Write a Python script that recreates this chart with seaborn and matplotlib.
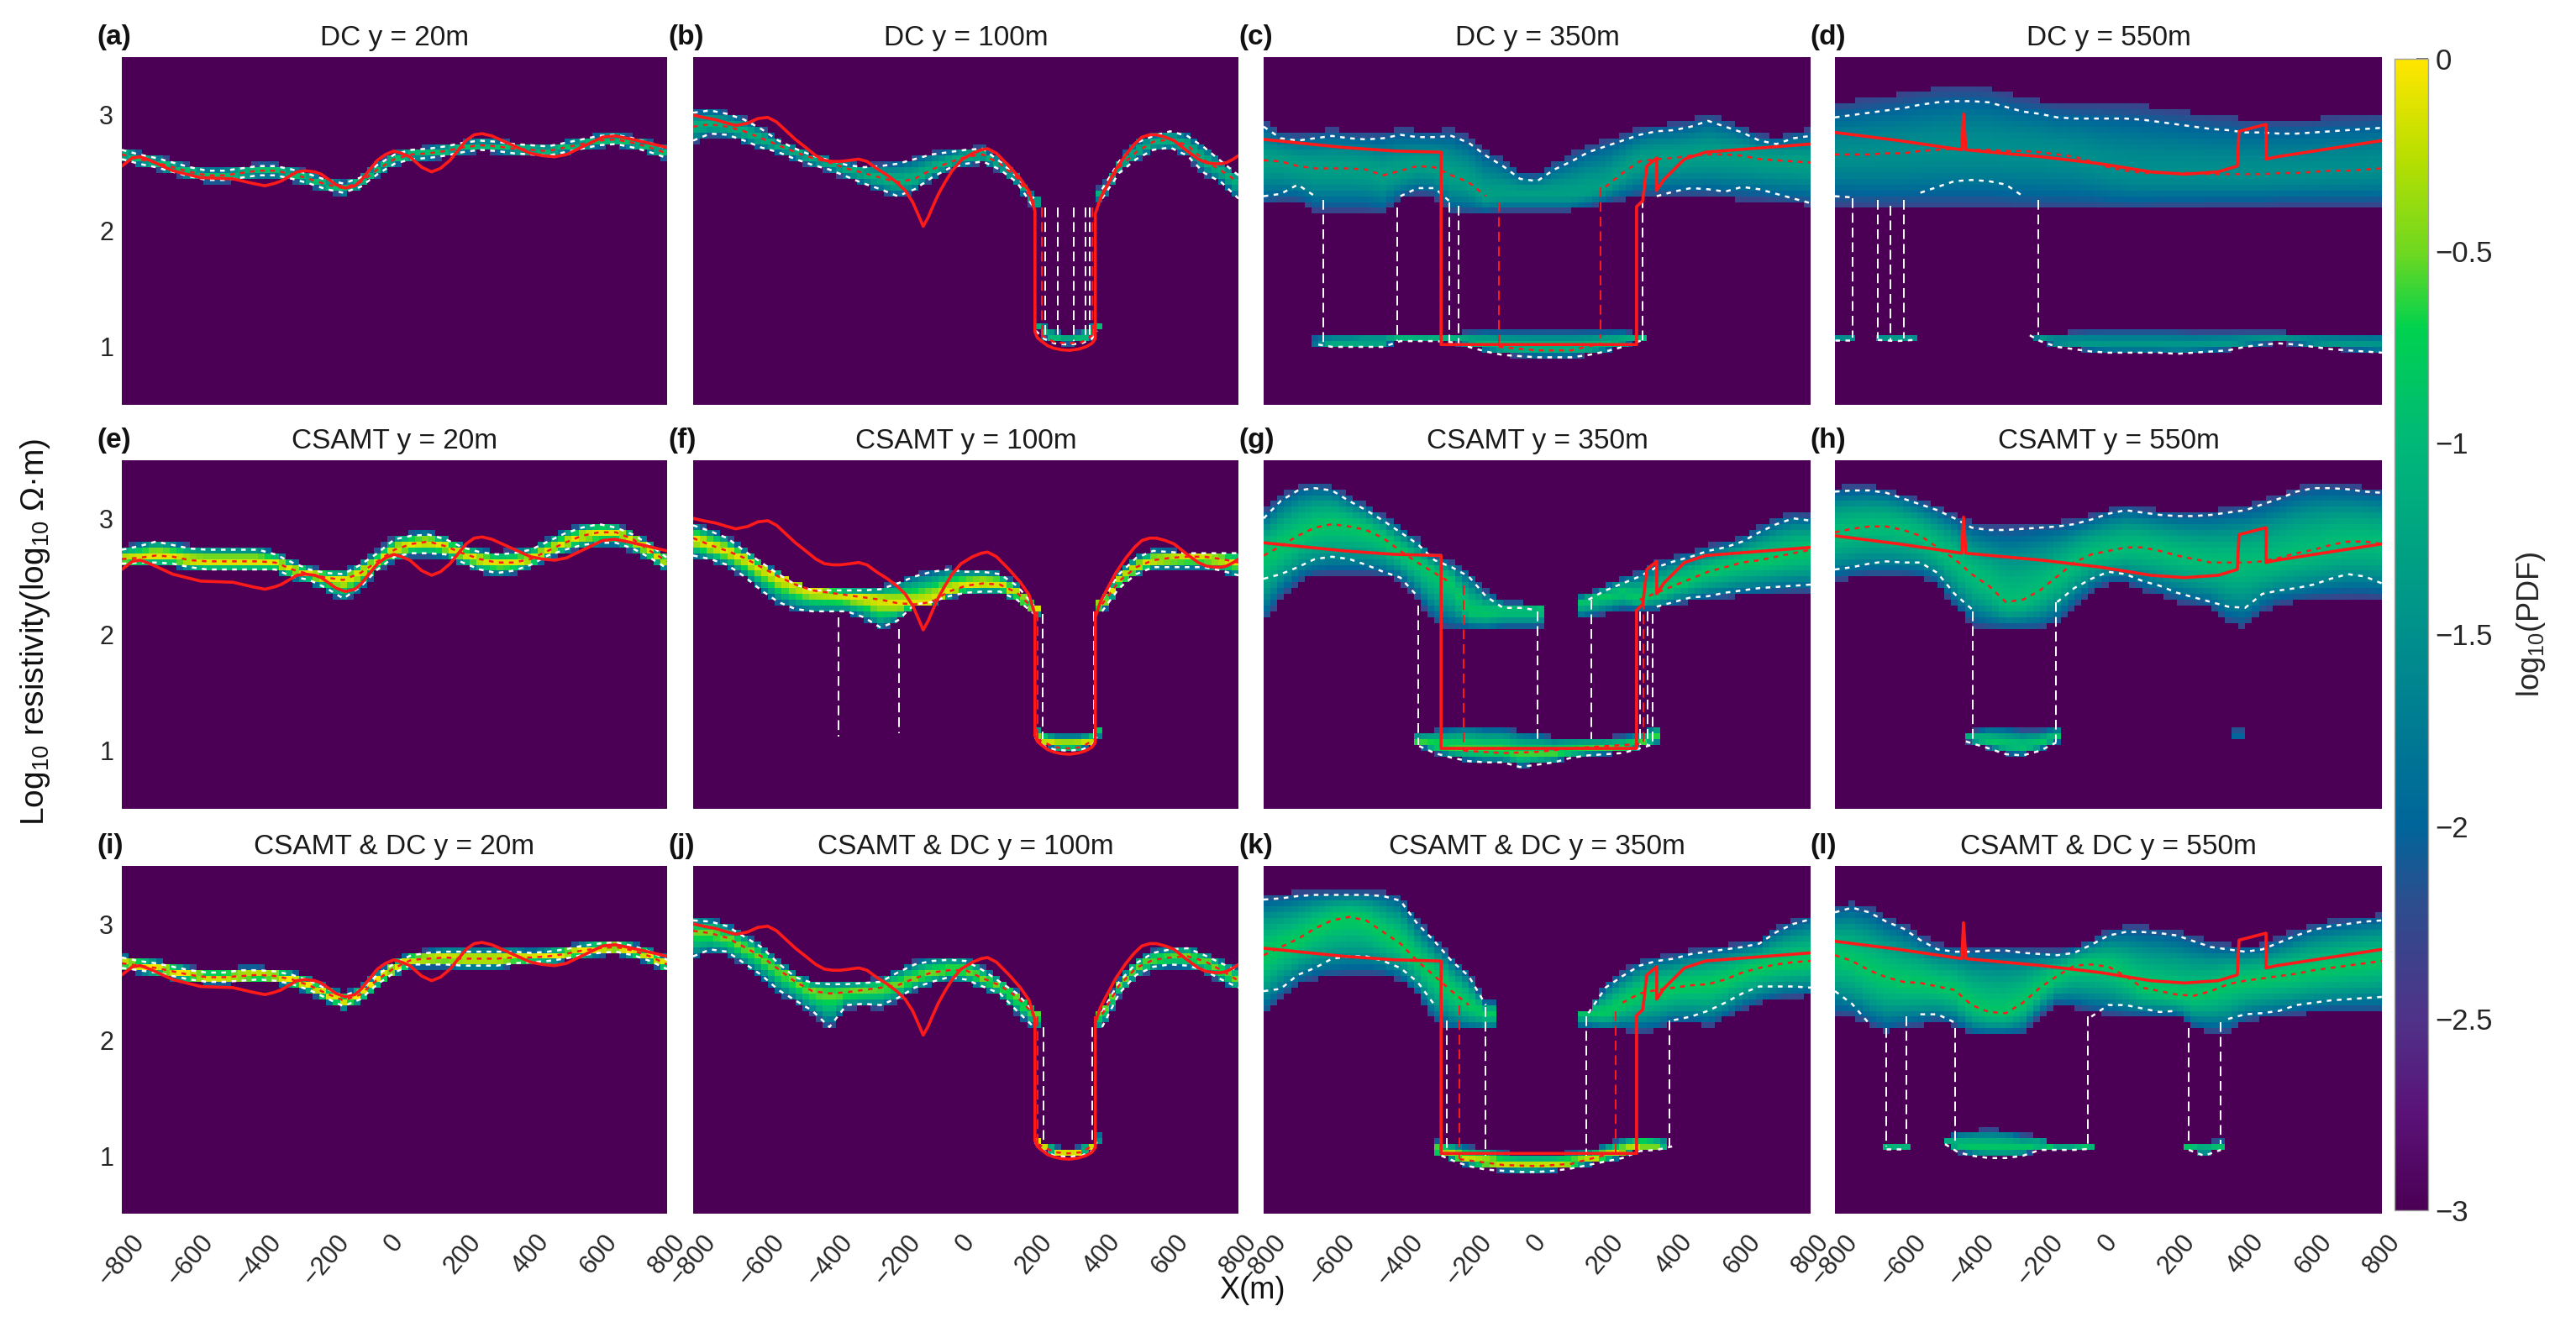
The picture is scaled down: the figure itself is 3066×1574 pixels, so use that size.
import numpy as np
import pandas as pd
import seaborn as sns
import matplotlib.pyplot as plt
from matplotlib.colors import LinearSegmentedColormap

N = np.nan

x_knots = list(range(-800, 801, 50))

# true model, one per y slice
true_x_20 = [-800, -769, -746, -727, -710, -651, -569, -474, -415, -380, -352, -333, -286, -262, -234, -215, -172, -144, -116, -97, -50, -26, -2, 21, 45, 80, 109, 135, 163, 210, 234, 257, 286, 316, 399, 434, 470, 505, 540, 611, 647, 682, 729, 800]
true_20 = [2.56, 2.63, 2.64, 2.62, 2.60, 2.52, 2.46, 2.45, 2.41, 2.39, 2.41, 2.43, 2.51, 2.52, 2.51, 2.49, 2.40, 2.37, 2.39, 2.44, 2.61, 2.66, 2.69, 2.67, 2.64, 2.55, 2.51, 2.54, 2.61, 2.78, 2.83, 2.84, 2.82, 2.78, 2.67, 2.65, 2.64, 2.66, 2.71, 2.81, 2.82, 2.80, 2.77, 2.72]
true_x_100 = [-800, -770, -734, -700, -675, -640, -610, -581, -555, -533, -500, -474, -440, -415, -390, -368, -340, -314, -290, -262, -230, -203, -178, -156, -138, -125, -110, -97, -80, -61, -40, -14, 20, 45, 64, 90, 127, 160, 186, 203, 203, 210, 222, 240, 257, 280, 304, 330, 352, 370, 380, 380, 395, 411, 440, 470, 495, 517, 540, 559, 585, 611, 645, 682, 705, 729, 750, 765, 785, 800]
true_100 = [3.0, 2.98, 2.96, 2.93, 2.91, 2.93, 2.97, 2.98, 2.94, 2.88, 2.79, 2.73, 2.65, 2.61, 2.60, 2.60, 2.61, 2.62, 2.60, 2.54, 2.48, 2.42, 2.35, 2.25, 2.13, 2.04, 2.12, 2.21, 2.32, 2.42, 2.52, 2.61, 2.67, 2.70, 2.71, 2.67, 2.56, 2.45, 2.34, 2.17, 1.13, 1.08, 1.05, 1.01, 0.99, 0.975, 0.97, 0.98, 1.0, 1.03, 1.07, 2.15, 2.28, 2.37, 2.53, 2.66, 2.75, 2.81, 2.83, 2.83, 2.81, 2.78, 2.70, 2.62, 2.59, 2.58, 2.58, 2.59, 2.62, 2.65]
true_x_350 = [-800, -564, -417, -281, -281, 291, 291, 309, 321, 350, 350, 370, 431, 493, 800]
true_350 = [2.79, 2.72, 2.69, 2.68, 1.02, 1.02, 2.21, 2.26, 2.56, 2.63, 2.35, 2.44, 2.62, 2.68, 2.75]
true_x_550 = [-800, -613, -429, -424, -417, -195, -23, 124, 223, 321, 377, 382, 461, 461, 493, 800]
true_550 = [2.85, 2.78, 2.70, 3.01, 2.70, 2.64, 2.58, 2.51, 2.49, 2.51, 2.56, 2.86, 2.92, 2.62, 2.64, 2.78]

# DC
mean_a = [2.66, 2.62, 2.59, 2.55, 2.51, 2.48, 2.48, 2.50, 2.52, 2.52, 2.49, 2.45, 2.40, 2.37, 2.42, 2.53, 2.62, 2.66, 2.67, 2.69, 2.72, 2.74, 2.73, 2.71, 2.70, 2.69, 2.72, 2.75, 2.78, 2.79, 2.76, 2.72, 2.67]
hi_a = [2.70, 2.66, 2.63, 2.59, 2.55, 2.52, 2.52, 2.54, 2.56, 2.56, 2.53, 2.49, 2.44, 2.41, 2.46, 2.57, 2.66, 2.70, 2.71, 2.73, 2.76, 2.78, 2.77, 2.75, 2.74, 2.73, 2.76, 2.79, 2.82, 2.83, 2.80, 2.76, 2.71]
lo_a = [2.62, 2.58, 2.55, 2.51, 2.47, 2.44, 2.44, 2.46, 2.48, 2.48, 2.45, 2.41, 2.36, 2.33, 2.38, 2.49, 2.58, 2.62, 2.63, 2.65, 2.68, 2.70, 2.69, 2.67, 2.66, 2.65, 2.68, 2.71, 2.74, 2.75, 2.72, 2.68, 2.63]

mean_b = [2.90, 2.92, 2.90, 2.86, 2.80, 2.74, 2.68, 2.63, 2.59, 2.54, 2.50, 2.46, 2.42, 2.45, 2.53, 2.59, 2.64, 2.66, 2.58, 2.46, 2.25, N, N, N, 2.33, 2.55, 2.68, 2.77, 2.79, 2.74, 2.61, 2.52, 2.42]
hi_b = [3.02, 3.04, 3.01, 2.96, 2.88, 2.78, 2.71, 2.65, 2.61, 2.57, 2.55, 2.56, 2.58, 2.62, 2.66, 2.68, 2.70, 2.71, 2.60, 2.47, 2.28, N, N, N, 2.36, 2.60, 2.76, 2.82, 2.86, 2.82, 2.72, 2.60, 2.48]
lo_b = [2.78, 2.84, 2.83, 2.78, 2.72, 2.68, 2.62, 2.57, 2.53, 2.47, 2.41, 2.36, 2.30, 2.36, 2.46, 2.54, 2.58, 2.60, 2.53, 2.42, 2.20, N, N, N, 2.28, 2.50, 2.62, 2.70, 2.72, 2.65, 2.50, 2.42, 2.28]
low_x_b = [205, 230, 260, 300, 340, 370, 385]
low_bot_b = [1.14, 1.07, 1.03, 1.02, 1.03, 1.07, 1.14]
low_top_b = [1.22, 1.20, 1.14, 1.10, 1.14, 1.20, 1.22]
drops_b = [(234, 2.2, 1.1), (270, 2.2, 1.08), (317, 2.2, 1.05), (352, 2.2, 1.08), (364, 2.2, 1.1)]
mean_drops_b = [(222, 2.2, 1.1), (372, 2.2, 1.1)]
low_mean_x_b = [222, 260, 300, 340, 372]
low_mean_b = [1.10, 1.04, 1.03, 1.04, 1.10]

mean_c = [2.61, 2.60, 2.56, 2.54, 2.54, 2.54, 2.53, 2.48, 2.52, 2.56, 2.55, 2.48, 2.42, 2.30, N, N, N, N, N, N, 2.38, 2.50, 2.60, 2.62, 2.63, 2.65, 2.66, 2.66, 2.65, 2.62, 2.61, 2.60, 2.59]
hi_c = [2.90, 2.80, 2.78, 2.80, 2.82, 2.80, 2.79, 2.80, 2.83, 2.81, 2.81, 2.82, 2.76, 2.65, 2.56, 2.45, 2.43, 2.53, 2.60, 2.68, 2.73, 2.78, 2.83, 2.86, 2.87, 2.90, 2.95, 2.90, 2.85, 2.78, 2.75, 2.80, 2.82]
lo_c = [2.30, 2.32, 2.40, 2.30, N, N, N, N, 2.30, 2.37, 2.37, 2.24, N, N, N, N, N, N, N, N, N, N, N, 2.30, 2.34, 2.37, 2.36, 2.34, 2.38, 2.36, 2.32, 2.28, 2.24]
floor_c = [2.22, 2.25, 2.25, 2.17, 2.17, 2.17, 2.17, 2.15, 2.28, 2.32, 2.30, 2.15, 2.15, 2.15, 2.17, 2.17, 2.17, 2.17, 2.17, 2.20, 2.25, 2.27, 2.30, 2.30, 2.30, 2.30, 2.30, 2.28, 2.27, 2.27, 2.25, 2.24, 2.22]
low_x_c = [-640, -600, -550, -500, -450, -400, -350, -300, -250, -200, -150, -100, -50, 0, 50, 100, 150, 200, 250, 310]
low_bot_c = [1.02, 1.00, 1.00, 1.00, 1.00, 1.05, 1.05, 1.05, 1.04, 1.00, 0.96, 0.93, 0.92, 0.91, 0.91, 0.91, 0.93, 0.96, 1.00, 1.06]
low_top_c = [1.08, 1.10, 1.10, 1.11, 1.11, 1.12, 1.10, 1.10, 1.12, 1.13, 1.14, 1.14, 1.14, 1.14, 1.14, 1.14, 1.14, 1.14, 1.14, 1.10]
drops_c = [(-625, 2.27, 1.02), (-409, 2.2, 1.05), (-257, 2.25, 1.05), (-230, 2.22, 1.03), (309, 2.28, 1.05)]
mean_drops_c = [(-112, 2.25, 1.0), (186, 2.38, 1.07)]
low_mean_x_c = [-112, 0, 100, 186]
low_mean_c = [1.00, 0.97, 0.97, 1.03]

mean_d = [2.66, 2.66, 2.66, 2.67, 2.67, 2.69, 2.70, 2.71, 2.70, 2.70, 2.69, 2.69, 2.68, 2.66, 2.64, 2.60, 2.55, 2.52, 2.50, 2.50, 2.50, 2.50, 2.49, 2.49, 2.49, 2.49, 2.50, 2.50, 2.51, 2.52, 2.52, 2.53, 2.54]
hi_d = [2.98, 3.00, 3.02, 3.04, 3.06, 3.09, 3.11, 3.12, 3.12, 3.11, 3.07, 3.03, 3.01, 2.98, 2.97, 2.97, 2.97, 2.97, 2.96, 2.94, 2.92, 2.90, 2.88, 2.87, 2.85, 2.85, 2.84, 2.84, 2.85, 2.86, 2.87, 2.88, 2.89]
lo_d = [2.30, 2.29, N, N, N, 2.33, 2.38, 2.43, 2.44, 2.43, 2.40, 2.30, N, N, N, N, N, N, N, N, N, N, N, N, N, N, N, N, N, N, N, N, N]
floor_d = [2.22, 2.22, 2.21, 2.21, 2.21, 2.21, 2.21, 2.21, 2.21, 2.21, 2.20, 2.19, 2.19, 2.19, 2.19, 2.19, 2.19, 2.19, 2.19, 2.20, 2.20, 2.20, 2.21, 2.21, 2.21, 2.21, 2.22, 2.22, 2.22, 2.22, 2.22, 2.22, 2.22]
low_x_d = [-800, -750, -675, -620, -570, -230, -200, -150, -100, -50, 0, 50, 100, 150, 200, 250, 300, 350, 400, 450, 500, 550, 600, 650, 700, 750, 800]
low_bot_d = [1.06, 1.06, 1.06, 1.05, 1.06, 1.10, 1.05, 1.00, 0.98, 0.96, 0.95, 0.95, 0.95, 0.95, 0.94, 0.95, 0.96, 0.97, 1.00, 1.02, 1.03, 1.02, 1.00, 0.98, 0.97, 0.96, 0.95]
low_top_d = [1.12, 1.12, 1.12, 1.12, 1.12, 1.12, 1.12, 1.12, 1.13, 1.14, 1.14, 1.14, 1.14, 1.14, 1.14, 1.13, 1.13, 1.13, 1.13, 1.13, 1.13, 1.12, 1.12, 1.12, 1.12, 1.12, 1.12]
drops_d = [(-748, 2.28, 1.08), (-675, 2.27, 1.07), (-638, 2.22, 1.05), (-598, 2.27, 1.07), (-205, 2.27, 1.1)]

# CSAMT
mean_e = [2.65, 2.66, 2.68, 2.67, 2.64, 2.63, 2.63, 2.63, 2.63, 2.62, 2.56, 2.52, 2.49, 2.47, 2.53, 2.63, 2.73, 2.78, 2.80, 2.76, 2.70, 2.65, 2.62, 2.62, 2.65, 2.72, 2.79, 2.85, 2.88, 2.88, 2.82, 2.72, 2.63]
hi_e = [2.73, 2.76, 2.80, 2.77, 2.74, 2.73, 2.73, 2.73, 2.73, 2.69, 2.62, 2.56, 2.53, 2.52, 2.60, 2.70, 2.82, 2.85, 2.86, 2.82, 2.75, 2.71, 2.69, 2.70, 2.73, 2.80, 2.87, 2.92, 2.95, 2.92, 2.86, 2.77, 2.66]
lo_e = [2.61, 2.62, 2.62, 2.61, 2.58, 2.56, 2.56, 2.56, 2.56, 2.56, 2.50, 2.47, 2.40, 2.31, 2.41, 2.56, 2.67, 2.70, 2.70, 2.69, 2.62, 2.56, 2.53, 2.55, 2.60, 2.68, 2.73, 2.77, 2.79, 2.79, 2.74, 2.66, 2.57]

mean_f = [2.83, 2.77, 2.72, 2.66, 2.58, 2.50, 2.43, 2.38, 2.36, 2.34, 2.32, 2.30, 2.27, 2.26, 2.28, 2.37, 2.42, 2.44, 2.43, 2.36, 2.22, N, N, N, 2.26, 2.46, 2.58, 2.64, 2.66, 2.67, 2.67, 2.65, 2.62]
hi_f = [2.94, 2.89, 2.83, 2.72, 2.62, 2.52, 2.43, 2.38, 2.38, 2.38, 2.38, 2.39, 2.44, 2.50, 2.54, 2.56, 2.54, 2.54, 2.52, 2.42, 2.25, N, N, N, 2.30, 2.52, 2.66, 2.72, 2.71, 2.70, 2.70, 2.70, 2.70]
lo_f = [2.68, 2.65, 2.60, 2.50, 2.38, 2.28, 2.22, 2.20, 2.20, 2.20, 2.15, 2.06, 2.12, 2.26, 2.28, 2.33, 2.36, 2.37, 2.37, 2.30, 2.18, N, N, N, 2.20, 2.40, 2.52, 2.58, 2.58, 2.58, 2.58, 2.55, 2.51]
low_x_f = [205, 230, 260, 300, 340, 370, 385]
low_bot_f = [1.12, 1.04, 1.01, 1.00, 1.01, 1.04, 1.12]
low_top_f = [1.20, 1.16, 1.14, 1.14, 1.14, 1.16, 1.20]
drops_f = [(-373, 2.15, 1.12), (-196, 2.05, 1.15), (226, 2.18, 1.1), (375, 2.2, 1.1)]
mean_drops_f = [(210, 2.2, 1.1), (378, 2.2, 1.1)]
low_mean_x_f = [210, 260, 300, 340, 378]
low_mean_f = [1.10, 1.03, 1.02, 1.03, 1.10]

mean_g = [2.68, 2.76, 2.85, 2.92, 2.95, 2.93, 2.90, 2.83, 2.72, 2.62, 2.53, 2.44, N, N, N, N, N, N, N, N, N, N, 2.30, 2.36, 2.42, 2.48, 2.54, 2.58, 2.62, 2.64, 2.67, 2.70, 2.73]
hi_g = [3.00, 3.15, 3.24, 3.26, 3.24, 3.15, 3.07, 2.98, 2.88, 2.78, 2.64, 2.58, 2.50, 2.33, 2.23, 2.23, 2.21, N, N, 2.30, 2.38, 2.44, 2.50, 2.58, 2.63, 2.67, 2.72, 2.75, 2.80, 2.88, 2.95, 3.00, 2.98]
lo_g = [2.48, 2.52, 2.58, 2.65, 2.67, 2.65, 2.60, 2.54, 2.49, 2.33, N, N, N, N, N, N, N, N, N, N, N, N, N, 2.24, 2.28, 2.32, 2.33, 2.36, 2.38, 2.40, 2.41, 2.42, 2.43]
floor_g = [2.09, 2.30, 2.45, 2.50, 2.52, 2.52, 2.52, 2.50, 2.45, 2.30, 2.10, 2.05, 2.05, 2.04, 2.06, 2.06, 2.06, N, N, 2.15, 2.18, 2.21, 2.21, 2.21, 2.25, 2.28, 2.30, 2.31, 2.33, 2.34, 2.35, 2.36, 2.36]
low_x_g = [-345, -300, -250, -200, -150, -100, -50, 0, 50, 100, 150, 200, 250, 300, 345]
low_bot_g = [1.04, 0.98, 0.94, 0.91, 0.90, 0.90, 0.86, 0.88, 0.90, 0.94, 0.96, 0.97, 0.98, 1.02, 1.06]
low_top_g = [1.15, 1.18, 1.20, 1.22, 1.20, 1.20, 1.17, 1.15, 1.12, 1.12, 1.12, 1.12, 1.13, 1.15, 1.22]
drops_g = [(-347, 2.25, 1.05), (0, 2.2, 1.08), (158, 2.3, 1.1), (301, 2.2, 1.05), (323, 2.2, 1.05), (338, 2.18, 1.04)]
mean_drops_g = [(-215, 2.42, 1.0), (312, 2.30, 1.05)]
low_mean_x_g = [-215, -100, 0, 100, 200, 312]
low_mean_g = [1.00, 0.98, 0.99, 1.02, 1.04, 1.06]

mean_h = [2.88, 2.91, 2.93, 2.93, 2.90, 2.85, 2.75, 2.65, 2.52, 2.42, 2.28, 2.30, 2.38, 2.50, 2.62, 2.69, 2.72, 2.75, 2.75, 2.72, 2.68, 2.65, 2.62, 2.62, 2.62, 2.63, 2.66, 2.70, 2.73, 2.77, 2.80, 2.80, 2.78]
hi_h = [3.23, 3.24, 3.24, 3.22, 3.17, 3.12, 3.07, 3.00, 2.92, 2.90, 2.90, 2.91, 2.92, 2.93, 2.95, 2.99, 3.04, 3.07, 3.05, 3.03, 3.02, 3.02, 3.03, 3.05, 3.07, 3.12, 3.17, 3.23, 3.26, 3.26, 3.25, 3.23, 3.22]
lo_h = [2.56, 2.58, 2.61, 2.63, 2.62, 2.62, 2.53, 2.35, 2.22, N, N, N, N, 2.28, 2.40, 2.48, 2.54, 2.52, 2.46, 2.42, 2.36, 2.32, 2.28, 2.24, 2.23, 2.35, 2.38, 2.40, 2.43, 2.48, 2.52, 2.50, 2.44]
floor_h = [2.46, 2.48, 2.50, 2.50, 2.50, 2.48, 2.43, 2.24, 2.08, 2.05, 2.05, 2.05, 2.05, 2.10, 2.24, 2.36, 2.44, 2.44, 2.38, 2.33, 2.28, 2.25, 2.22, 2.10, 2.06, 2.20, 2.26, 2.28, 2.30, 2.31, 2.32, 2.32, 2.31]
low_x_h = [-417, -350, -300, -250, -200, -153, 365, 385]
low_bot_h = [1.08, 1.02, 0.97, 0.96, 1.00, 1.07, 1.08, 1.08]
low_top_h = [1.16, 1.20, 1.20, 1.18, 1.18, 1.20, 1.20, 1.20]
drops_h = [(-396, 2.2, 1.07), (-153, 2.28, 1.07)]

# CSAMT & DC
mean_i = [2.66, 2.64, 2.62, 2.59, 2.56, 2.54, 2.54, 2.55, 2.56, 2.55, 2.52, 2.47, 2.40, 2.34, 2.39, 2.52, 2.62, 2.69, 2.70, 2.71, 2.70, 2.70, 2.70, 2.71, 2.71, 2.72, 2.74, 2.77, 2.79, 2.80, 2.77, 2.72, 2.65]
hi_i = [2.71, 2.68, 2.66, 2.63, 2.60, 2.58, 2.58, 2.60, 2.60, 2.59, 2.56, 2.51, 2.44, 2.38, 2.43, 2.56, 2.66, 2.73, 2.75, 2.76, 2.76, 2.76, 2.76, 2.76, 2.75, 2.76, 2.78, 2.81, 2.83, 2.84, 2.81, 2.76, 2.69]
lo_i = [2.62, 2.60, 2.58, 2.55, 2.52, 2.50, 2.50, 2.51, 2.52, 2.51, 2.48, 2.43, 2.36, 2.29, 2.35, 2.48, 2.58, 2.65, 2.65, 2.65, 2.64, 2.64, 2.64, 2.66, 2.67, 2.68, 2.70, 2.73, 2.75, 2.76, 2.73, 2.68, 2.61]

mean_j = [2.94, 2.92, 2.88, 2.80, 2.72, 2.61, 2.50, 2.42, 2.40, 2.41, 2.43, 2.45, 2.47, 2.53, 2.58, 2.60, 2.60, 2.53, 2.47, 2.37, 2.22, N, N, N, 2.22, 2.47, 2.62, 2.69, 2.71, 2.72, 2.68, 2.60, 2.51]
hi_j = [3.03, 3.02, 2.98, 2.89, 2.80, 2.66, 2.54, 2.49, 2.48, 2.48, 2.49, 2.50, 2.58, 2.65, 2.68, 2.69, 2.68, 2.60, 2.50, 2.40, 2.24, N, N, N, 2.24, 2.50, 2.66, 2.75, 2.78, 2.79, 2.73, 2.66, 2.59]
lo_j = [2.72, 2.78, 2.76, 2.66, 2.56, 2.43, 2.34, 2.25, 2.11, 2.30, 2.31, 2.30, 2.36, 2.45, 2.50, 2.54, 2.52, 2.46, 2.40, 2.25, 2.11, N, N, N, 2.11, 2.40, 2.56, 2.63, 2.65, 2.64, 2.60, 2.52, 2.45]
low_x_j = [205, 230, 260, 300, 340, 370, 385]
low_bot_j = [1.12, 1.04, 1.00, 0.99, 1.00, 1.04, 1.12]
low_top_j = [1.18, 1.12, 1.08, 1.07, 1.08, 1.12, 1.18]
drops_j = [(229, 2.11, 1.1), (371, 2.11, 1.1)]
mean_drops_j = [(212, 2.2, 1.1), (378, 2.2, 1.1)]
low_mean_x_j = [212, 260, 300, 340, 378]
low_mean_j = [1.10, 1.03, 1.02, 1.03, 1.10]

mean_k = [2.73, 2.80, 2.87, 2.96, 3.03, 3.06, 3.03, 2.93, 2.83, 2.68, 2.55, 2.42, 2.30, N, N, N, N, N, N, N, N, 2.32, 2.40, 2.43, 2.45, 2.47, 2.48, 2.52, 2.58, 2.62, 2.65, 2.67, 2.68]
hi_k = [3.21, 3.22, 3.24, 3.25, 3.25, 3.25, 3.25, 3.24, 3.20, 3.00, 2.85, 2.68, 2.55, 2.30, N, N, N, N, N, 2.23, 2.45, 2.55, 2.64, 2.68, 2.70, 2.74, 2.76, 2.78, 2.80, 2.83, 2.93, 3.00, 3.04]
lo_k = [2.42, 2.44, 2.56, 2.62, 2.70, 2.72, 2.72, 2.68, 2.62, 2.50, 2.30, N, N, N, N, N, N, N, N, N, N, N, N, N, 2.17, 2.20, 2.25, 2.32, 2.40, 2.46, 2.46, 2.46, 2.45]
floor_k = [2.20, 2.35, 2.47, 2.52, 2.54, 2.55, 2.56, 2.55, 2.50, 2.38, 2.15, 2.08, 2.08, 2.08, N, N, N, N, N, 2.10, 2.08, 2.08, 2.06, 2.08, 2.14, 2.14, 2.11, 2.18, 2.26, 2.31, 2.35, 2.37, 2.38]
low_x_k = [-280, -240, -200, -150, -100, -50, 0, 50, 100, 150, 200, 250, 300, 350, 395]
low_bot_k = [1.00, 0.95, 0.91, 0.88, 0.87, 0.86, 0.86, 0.87, 0.89, 0.92, 0.95, 0.98, 1.04, 1.05, 1.08]
low_top_k = [1.13, 1.10, 1.08, 1.07, 1.03, 1.02, 1.02, 1.02, 1.03, 1.05, 1.10, 1.15, 1.18, 1.15, 1.12]
drops_k = [(-264, 2.17, 1.03), (-151, 2.28, 1.0), (144, 2.2, 1.0), (387, 2.17, 1.08)]
mean_drops_k = [(-227, 2.3, 0.97), (230, 2.25, 1.03)]
low_mean_x_k = [-227, -100, 0, 100, 230]
low_mean_k = [0.97, 0.92, 0.91, 0.93, 1.03]

mean_l = [2.73, 2.68, 2.60, 2.54, 2.50, 2.49, 2.46, 2.43, 2.30, 2.24, 2.23, 2.32, 2.45, 2.55, 2.64, 2.65, 2.63, 2.55, 2.45, 2.42, 2.39, 2.38, 2.42, 2.48, 2.51, 2.53, 2.55, 2.57, 2.60, 2.62, 2.64, 2.66, 2.68]
hi_l = [3.10, 3.14, 3.10, 3.02, 2.96, 2.86, 2.78, 2.76, 2.76, 2.77, 2.77, 2.75, 2.74, 2.73, 2.75, 2.82, 2.90, 2.93, 2.93, 2.92, 2.90, 2.85, 2.80, 2.78, 2.76, 2.78, 2.84, 2.90, 2.95, 2.98, 3.00, 3.02, 3.03]
lo_l = [2.42, 2.31, 2.14, N, N, 2.22, 2.22, 2.15, N, N, N, N, N, N, N, 2.20, 2.30, 2.30, 2.27, 2.24, 2.25, N, N, 2.18, 2.22, 2.23, 2.25, 2.30, 2.32, 2.34, 2.35, 2.36, 2.37]
floor_l = [2.22, 2.20, 2.12, 2.06, 2.10, 2.12, 2.16, 2.12, 2.04, 2.04, 2.04, 2.05, 2.20, 2.30, 2.28, 2.24, 2.22, 2.20, 2.20, 2.20, 2.20, 2.10, 2.06, 2.06, 2.15, 2.18, 2.20, 2.22, 2.23, 2.24, 2.24, 2.24, 2.24]
low_x_l = [-650, -590, -478, -440, -400, -350, -300, -250, -200, -150, -100, -48, 235, 280, 329, 455, 465]
low_bot_l = [1.06, 1.06, 1.10, 1.03, 1.00, 0.98, 0.98, 1.00, 1.05, 1.05, 1.05, 1.06, 1.05, 1.00, 1.05, 1.08, 1.08]
low_top_l = [1.12, 1.12, 1.14, 1.20, 1.22, 1.23, 1.22, 1.18, 1.17, 1.09, 1.09, 1.12, 1.12, 1.12, 1.13, 1.12, 1.12]
drops_l = [(-650, 2.1, 1.08), (-590, 2.2, 1.07), (-448, 2.1, 1.1), (-60, 2.2, 1.1), (235, 2.1, 1.1), (329, 2.15, 1.1)]

titles = ["DC y = 20m", "DC y = 100m", "DC y = 350m", "DC y = 550m",
          "CSAMT y = 20m", "CSAMT y = 100m", "CSAMT y = 350m", "CSAMT y = 550m",
          "CSAMT & DC y = 20m", "CSAMT & DC y = 100m", "CSAMT & DC y = 350m", "CSAMT & DC y = 550m"]
letters = list("abcdefghijkl")
true_lines = [(true_x_20, true_20), (true_x_100, true_100), (true_x_350, true_350), (true_x_550, true_550)]

# peak of log10(PDF), peak of the lower branch, spread above the white line
peaks = [-0.9, -1.1, -1.3, -1.5, -0.1, -0.1, -0.85, -0.95, 0.0, -0.5, -0.8, -0.85]
low_peaks = [0, -0.9, -1.0, -1.4, 0, -0.1, -0.6, -0.85, 0, -0.1, -0.2, -0.85]
pads = [0.02, 0.02, 0.06, 0.12, 0.03, 0.02, 0.05, 0.04, 0.03, 0.03, 0.04, 0.05]

panels = [
    dict(mean=mean_a, lo=lo_a, hi=hi_a),
    dict(mean=mean_b, lo=lo_b, hi=hi_b, low=(low_x_b, low_bot_b, low_top_b), drops=drops_b, mean_drops=mean_drops_b, low_mean=(low_mean_x_b, low_mean_b)),
    dict(mean=mean_c, lo=lo_c, hi=hi_c, floor=floor_c, low=(low_x_c, low_bot_c, low_top_c), drops=drops_c, mean_drops=mean_drops_c, low_mean=(low_mean_x_c, low_mean_c)),
    dict(mean=mean_d, lo=lo_d, hi=hi_d, floor=floor_d, low=(low_x_d, low_bot_d, low_top_d), drops=drops_d),
    dict(mean=mean_e, lo=lo_e, hi=hi_e),
    dict(mean=mean_f, lo=lo_f, hi=hi_f, low=(low_x_f, low_bot_f, low_top_f), drops=drops_f, mean_drops=mean_drops_f, low_mean=(low_mean_x_f, low_mean_f)),
    dict(mean=mean_g, lo=lo_g, hi=hi_g, floor=floor_g, low=(low_x_g, low_bot_g, low_top_g), drops=drops_g, mean_drops=mean_drops_g, low_mean=(low_mean_x_g, low_mean_g)),
    dict(mean=mean_h, lo=lo_h, hi=hi_h, floor=floor_h, low=(low_x_h, low_bot_h, low_top_h), drops=drops_h),
    dict(mean=mean_i, lo=lo_i, hi=hi_i),
    dict(mean=mean_j, lo=lo_j, hi=hi_j, low=(low_x_j, low_bot_j, low_top_j), drops=drops_j, mean_drops=mean_drops_j, low_mean=(low_mean_x_j, low_mean_j)),
    dict(mean=mean_k, lo=lo_k, hi=hi_k, floor=floor_k, low=(low_x_k, low_bot_k, low_top_k), drops=drops_k, mean_drops=mean_drops_k, low_mean=(low_mean_x_k, low_mean_k)),
    dict(mean=mean_l, lo=lo_l, hi=hi_l, floor=floor_l, low=(low_x_l, low_bot_l, low_top_l), drops=drops_l),
]

cmap_stops = [(0.0, "#4b0055"), (0.083, "#5a1278"), (0.167, "#4f3389"), (0.267, "#2c4e8e"), (0.333, "#00659a"),
              (0.5, "#00908c"), (0.667, "#00b878"), (0.767, "#00d24f"), (0.833, "#6fd820"), (0.917, "#b9df00"), (1.0, "#ffe600")]
pdf_cmap = LinearSegmentedColormap.from_list("pdf", cmap_stops)

sns.set_theme(style="white")
plt.rcParams["font.family"] = ["Liberation Sans", "DejaVu Sans"]
plt.rcParams["mathtext.default"] = "regular"
plt.rcParams["axes.unicode_minus"] = True

W, H = 3066, 1574
col_px = [(145, 794), (825, 1474), (1504, 2155), (2184, 2835)]
row_px = [(68, 482), (548, 963), (1031, 1445)]
x_cells = np.arange(-790, 800, 20)
y_cells = np.arange(0.525, 3.5, 0.05)
TOP_EDGE = -2.3


def box(left, right, top, bottom):
    return [left / W, 1 - bottom / H, (right - left) / W, (bottom - top) / H]


def split_runs(x, y, gap=None):
    # lineplot drops NaN and joins across holes, so split the runs here
    runs, cur = [], []
    for xi, yi in zip(x, y):
        broken = np.isnan(yi) or (gap is not None and cur and xi - cur[-1][0] > gap)
        if broken and cur:
            runs.append(cur)
            cur = []
        if not np.isnan(yi):
            cur.append((xi, yi))
    if cur:
        runs.append(cur)
    return [np.array(r) for r in runs]


def draw(ax, x, y, color, lw, ls="-", gap=None):
    for run in split_runs(x, y, gap):
        if len(run) < 2:
            continue
        sns.lineplot(x=run[:, 0], y=run[:, 1], sort=False, estimator=None, color=color,
                     linewidth=lw, linestyle=ls, legend=False, ax=ax)


def fill_band(grid, col, top, core, bot, peak):
    core = min(max(core, bot + 1e-3), top - 1e-3)
    for row, y in enumerate(y_cells):
        if y > top or y < bot:
            continue
        d = (y - core) / (top - core) if y >= core else (core - y) / (core - bot)
        grid[row, col] = max(grid[row, col], peak - (peak - TOP_EDGE) * d ** 1.6)


def pdf_grid(p, peak, low_peak, pad):
    grid = np.full((len(y_cells), len(x_cells)), -3.0)
    knots = np.array(x_knots, dtype=float)
    hi = np.array(p["hi"], dtype=float)
    mean = np.array(p["mean"], dtype=float)
    floor = np.array(p["floor"], dtype=float) if "floor" in p else np.array(p["lo"], dtype=float) - pad
    core = np.where(np.isnan(mean), floor + 0.15, mean)
    ok = ~np.isnan(hi) & ~np.isnan(floor)
    for col, x in enumerate(x_cells):
        if not ok[np.argmin(np.abs(knots - x))]:
            continue
        fill_band(grid, col, np.interp(x, knots[ok], hi[ok]) + pad, np.interp(x, knots[ok], core[ok]),
                  np.interp(x, knots[ok], floor[ok]), peak)
    if "low" in p:
        lx, lb, lt = p["low"]
        for run in split_runs(lx, list(range(len(lx))), gap=70):
            idx = run[:, 1].astype(int)
            xs = np.array(lx)[idx]
            bots = np.array(lb)[idx]
            tops = np.array(lt)[idx]
            small = xs[-1] - xs[0] < 30
            for col, x in enumerate(x_cells):
                if xs[0] - 10 <= x <= xs[-1] + 10:
                    b, t = np.interp(x, xs, bots), np.interp(x, xs, tops)
                    fill_band(grid, col, t, b + 0.35 * (t - b), b, -2.0 if small else low_peak)
    return grid


fig = plt.figure(figsize=(W / 200, H / 200), dpi=200, facecolor="white")
cax = fig.add_axes(box(2850, 2890, 70, 1441))
cbar = None

for i, p in enumerate(panels):
    row, col = i // 4, i % 4
    pos = box(col_px[col][0], col_px[col][1], row_px[row][0], row_px[row][1])

    # the cells go on their own axes, the lines on a real x/y scale above them
    heat_ax = fig.add_axes(pos)
    grid = pdf_grid(p, peaks[i], low_peaks[i], pads[i])
    table = pd.DataFrame(grid[::-1], index=y_cells[::-1], columns=x_cells)
    sns.heatmap(table, vmin=-3, vmax=0, cmap=pdf_cmap, ax=heat_ax, xticklabels=False, yticklabels=False,
                cbar=i == 0, cbar_ax=cax if i == 0 else None, rasterized=True)
    if i == 0:
        cbar = heat_ax.collections[0].colorbar
    heat_ax.set_xlabel("")
    heat_ax.set_ylabel("")

    ax = fig.add_axes(pos)
    ax.patch.set_alpha(0)
    draw(ax, x_knots, p["hi"], "white", 0.9, (0, (2.2, 2.6)))
    draw(ax, x_knots, p["lo"], "white", 0.9, (0, (2.2, 2.6)))
    if "low" in p:
        lx, lb, lt = p["low"]
        for run in split_runs(lx, lb, gap=70):
            if run[-1, 0] - run[0, 0] >= 30:
                draw(ax, run[:, 0], run[:, 1], "white", 0.9, (0, (2.2, 2.6)))
    for x, top, bot in p.get("drops", []):
        draw(ax, [x, x], [top, bot], "white", 0.7, (0, (6, 3)))
    draw(ax, x_knots, p["mean"], "#ff1a1a", 0.9, (0, (2.2, 2.6)))
    for x, top, bot in p.get("mean_drops", []):
        draw(ax, [x, x], [top, bot], "#ff1a1a", 0.7, (0, (6, 3)))
    if "low_mean" in p:
        draw(ax, p["low_mean"][0], p["low_mean"][1], "#ff1a1a", 0.9, (0, (2.2, 2.6)))
    tx, ty = true_lines[col]
    draw(ax, tx, ty, "#ff1a1a", 1.3)

    ax.set_xlim(-800, 800)
    ax.set_ylim(0.5, 3.5)
    ax.set_xticks(range(-800, 801, 200))
    ax.set_yticks([1, 2, 3])
    ax.tick_params(length=0, labelsize=11, colors="#262626")
    ax.tick_params(axis="x", pad=7)
    ax.set_xlabel("")
    ax.set_ylabel("")
    if row == 2:
        ax.set_xticklabels([str(v).replace("-", "\u2212") for v in range(-800, 801, 200)], rotation=50, ha="center")
    else:
        ax.set_xticklabels([])
    if col != 0:
        ax.set_yticklabels([])
    for s in ax.spines.values():
        s.set_visible(False)
    ax.set_title(titles[i], fontsize=12, pad=5, color="#1a1a1a")
    ax.text(-0.045, 1.02, f"({letters[i]})", transform=ax.transAxes, fontsize=12, fontweight="bold",
            color="#111111", va="bottom", ha="left")

cbar.set_ticks([0, -0.5, -1, -1.5, -2, -2.5, -3])
cbar.set_ticklabels(["0", "\u22120.5", "\u22121", "\u22121.5", "\u22122", "\u22122.5", "\u22123"])
cax.tick_params(labelsize=12.5, length=5, width=0.6, direction="in", color="#555555", pad=3, labelcolor="#262626")
cbar.outline.set_visible(True)
cbar.outline.set_edgecolor("#a0a0a0")
cbar.outline.set_linewidth(0.5)

fig.text(3012 / W, 1 - 743 / H, "log$_{10}$(PDF)", rotation=90, fontsize=13, va="center", ha="center", color="#262626")
fig.text(42 / W, 1 - 752 / H, "Log$_{10}$ resistivity(log$_{10}$ \u03a9\u00b7m)", rotation=90, fontsize=14, va="center", ha="center", color="#111111")
fig.text(1490 / W, 1 - 1537 / H, "X(m)", fontsize=13, va="center", ha="center", color="#111111")

fig.savefig("out.png", dpi=200)
